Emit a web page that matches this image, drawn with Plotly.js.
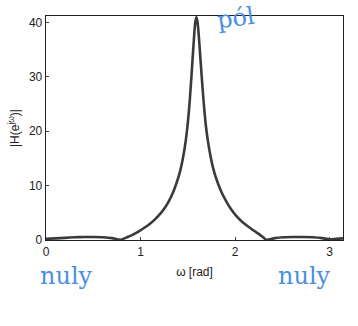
<!DOCTYPE html>
<html>
<head>
<meta charset="utf-8">
<script src="https://cdn.plot.ly/plotly-3.0.1.min.js"></script>
<style>html,body{margin:0;padding:0;background:#fff;}#chart{width:358px;height:326px;}</style>
</head>
<body>
<div id="chart"></div>
<script>
var omega = [0, 0.1, 0.2, 0.3, 0.4, 0.5, 0.6, 0.7, 0.787, 0.85, 0.92, 0.982, 1.04, 1.10, 1.15, 1.20, 1.25, 1.30, 1.35, 1.40, 1.43, 1.46, 1.48, 1.50, 1.52, 1.54, 1.555, 1.57, 1.58, 1.591, 1.602, 1.613, 1.629, 1.645, 1.667, 1.688, 1.71, 1.732, 1.764, 1.797, 1.851, 1.905, 1.96, 2.01, 2.06, 2.11, 2.16, 2.205, 2.25, 2.29, 2.33, 2.42, 2.52, 2.62, 2.72, 2.82, 2.92, 3.0, 3.07, 3.1416];
var mag = [0.2, 0.3, 0.4, 0.5, 0.55, 0.55, 0.5, 0.35, 0.05, 0.45, 1.0, 1.6, 2.25, 3.0, 3.75, 4.65, 5.75, 7.15, 9.0, 11.5, 13.5, 16.2, 18.5, 21.5, 25.5, 30.5, 34.5, 38.3, 40.2, 41, 40.2, 38.3, 34.5, 30.5, 25.5, 21.5, 18.5, 16.2, 13.5, 11.5, 9.0, 7.15, 5.6, 4.5, 3.6, 2.85, 2.2, 1.65, 1.12, 0.6, 0.05, 0.35, 0.5, 0.55, 0.55, 0.5, 0.35, 0.1, 0.2, 0.3];
var xTicks = [0, 1, 2, 3];
var yTicks = [0, 10, 20, 30, 40];
var notes = ["pól", "nuly", "nuly"];

var axisFont = {family: "Liberation Sans, Arial, sans-serif", size: 12, color: "#222"};
var noteFont = {family: "DejaVu Serif, serif", size: 24, color: "#4a90e2"};
var data = [{
  x: omega, y: mag, type: "scatter", mode: "lines",
  line: {color: "#3a3a3a", width: 2.6, shape: "spline", smoothing: 0.5}, hoverinfo: "skip"
}];
var layout = {
  width: 358, height: 326,
  margin: {l: 46, r: 15, t: 16, b: 86},
  paper_bgcolor: "#fff", plot_bgcolor: "#fff",
  showlegend: false,
  xaxis: {
    range: [0, Math.PI], tickvals: xTicks, ticktext: xTicks.map(String),
    ticks: "inside", ticklen: 3, tickcolor: "#444",
    showline: true, mirror: true, linecolor: "#222", linewidth: 1.3,
    showgrid: false, zeroline: false, tickfont: axisFont,
    title: {text: "ω [rad]", font: axisFont, standoff: 10}
  },
  yaxis: {
    range: [0, 41.2], tickvals: yTicks, ticktext: yTicks.map(String),
    ticks: "inside", ticklen: 3, tickcolor: "#444",
    showline: true, mirror: true, linecolor: "#222", linewidth: 1.3,
    showgrid: false, zeroline: false, tickfont: axisFont,
    title: {text: "|H(e<sup>jω</sup>)|", font: axisFont, standoff: 6}
  },
  annotations: [
    {text: notes[0], xref: "paper", yref: "paper", x: 0.64, y: 0.99, xanchor: "center", yanchor: "middle", showarrow: false,
     font: noteFont, textangle: -8},
    {text: notes[1], xref: "paper", yref: "paper", x: 0.07, y: -0.16, xanchor: "center", yanchor: "middle", showarrow: false,
     font: noteFont},
    {text: notes[2], xref: "paper", yref: "paper", x: 0.87, y: -0.16, xanchor: "center", yanchor: "middle", showarrow: false,
     font: noteFont}
  ]
};
Plotly.newPlot("chart", data, layout, {displayModeBar: false, staticPlot: true});
</script>
</body>
</html>
